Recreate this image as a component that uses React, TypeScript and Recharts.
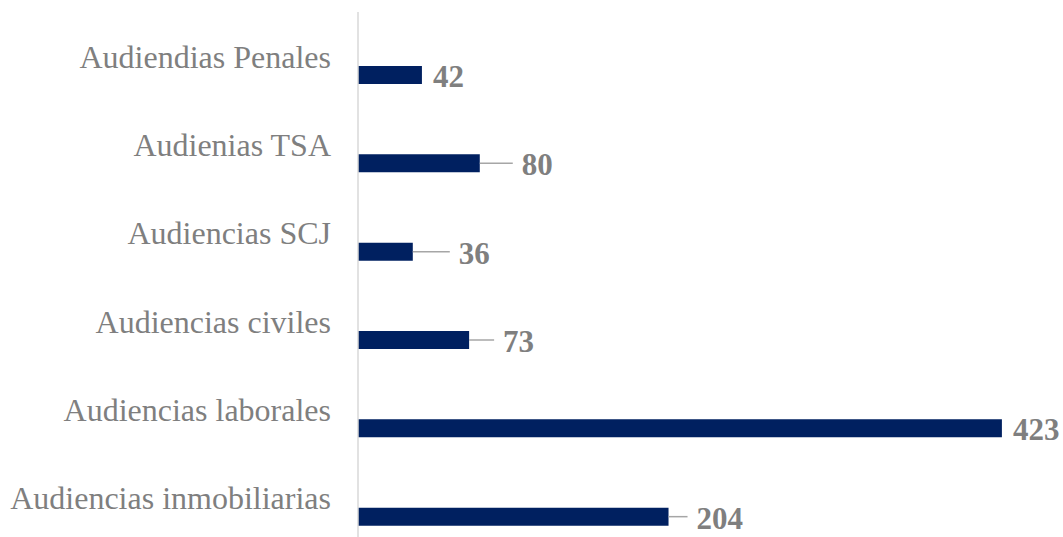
import { Bar, BarChart, XAxis, YAxis, LabelList } from "recharts"

const categories = [
  "Audiendias Penales",
  "Audienias TSA",
  "Audiencias SCJ",
  "Audiencias civiles",
  "Audiencias laborales",
  "Audiencias inmobiliarias",
]
const audiencias = [42, 80, 36, 73, 423, 204]

// leader line lengths (px) for each data label, as placed in the original
const leaderLengths = [0, 33, 37, 25, 0, 19]

const SERIF = "'Liberation Serif', 'Times New Roman', serif"
const GRAY = "#7f7f7f"

const chartData = categories.map((name, i) => ({
  name,
  pad: 0,
  value: audiencias[i],
}))

function ValueLabel(props: any) {
  const { x, y, width, height, value, index } = props
  const lead = leaderLengths[index] ?? 0
  const x0 = Number(x) + Number(width)
  const cy = Number(y) + Number(height) / 2
  const tx = lead > 0 ? x0 + lead + 9 : x0 + 11
  return (
    <g>
      {lead > 0 && <line x1={x0} y1={cy} x2={x0 + lead} y2={cy} stroke="#a6a6a6" strokeWidth={1.5} />}
      <text
        x={tx}
        y={cy + 1}
        dy="0.35em"
        fill={GRAY}
        fontFamily={SERIF}
        fontWeight="bold"
        fontSize={31}
      >
        {value}
      </text>
    </g>
  )
}

export default function App() {
  return (
    <div style={{ position: "absolute", left: 0, top: 0, width: 1063, height: 537, overflow: "hidden", background: "#fff" }}>
      <BarChart
        layout="vertical"
        width={1063}
        height={542}
        data={chartData}
        margin={{ top: 12, right: 20, bottom: 0, left: 0 }}
        barSize={18}
        barGap={19}
      >
        <XAxis type="number" domain={[0, 450]} hide />
        <YAxis
          type="category"
          dataKey="name"
          width={358}
          axisLine={{ stroke: "#d9d9d9", strokeWidth: 1.5 }}
          tickLine={false}
          tickMargin={21}
          interval={0}
          tick={{ fill: GRAY, fontSize: 32, fontFamily: SERIF }}
        />
        <Bar dataKey="pad" fill="none" isAnimationActive={false} />
        <Bar dataKey="value" fill="#002060" isAnimationActive={false}>
          <LabelList dataKey="value" content={<ValueLabel />} />
        </Bar>
      </BarChart>
    </div>
  )
}
